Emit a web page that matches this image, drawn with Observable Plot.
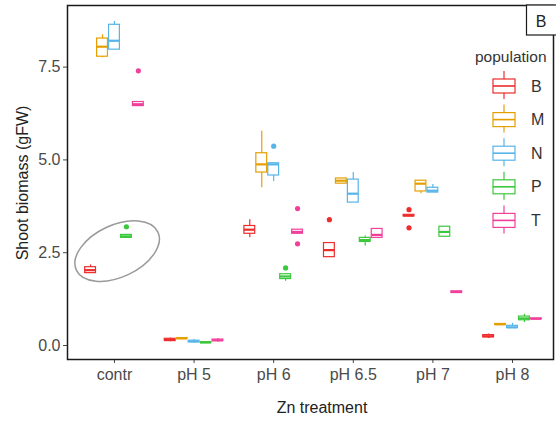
<!DOCTYPE html>
<html>
<head>
<meta charset="utf-8">
<script src="https://cdn.jsdelivr.net/npm/d3@7"></script>
<script src="https://cdn.jsdelivr.net/npm/@observablehq/plot@0.6"></script>
<style>
  body { margin: 0; background: #fff; }
  #chart { width: 556px; height: 423px; }
  #chart svg { font-family: "Liberation Sans", Arial, sans-serif; }
</style>
</head>
<body>
<div id="chart"></div>
<script>
// Zn treatments (x categories) and plant populations (dodged groups)
const treatments = ["contr", "pH 5", "pH 6", "pH 6.5", "pH 7", "pH 8"];
const populations = ["B", "M", "N", "P", "T"];
const popColors = ["#EE2C2C", "#E69F00", "#56B4E9", "#3CC83C", "#F0409A"];
const yTicks = [0, 2.5, 5, 7.5];

// Box statistics per treatment: [lower whisker, Q1, median, Q3, upper whisker]
const statsB = [
  [1.95, 1.95, 2.03, 2.11, 2.17],
  [0.10, 0.12, 0.15, 0.18, 0.20],
  [2.90, 3.01, 3.12, 3.22, 3.39],
  [2.38, 2.38, 2.57, 2.76, 2.76],
  [3.47, 3.48, 3.50, 3.52, 3.53],
  [0.19, 0.22, 0.25, 0.28, 0.31]
];
const statsM = [
  [7.75, 7.78, 8.05, 8.27, 8.37],
  [0.18, 0.18, 0.19, 0.20, 0.20],
  [4.25, 4.66, 4.88, 5.18, 5.77],
  [4.36, 4.36, 4.44, 4.50, 4.50],
  [4.09, 4.15, 4.36, 4.44, 4.44],
  [0.56, 0.56, 0.57, 0.58, 0.58]
];
const statsN = [
  [7.97, 7.97, 8.21, 8.64, 8.73],
  [0.06, 0.09, 0.11, 0.13, 0.16],
  [4.42, 4.58, 4.88, 4.91, 4.91],
  [3.85, 3.85, 4.09, 4.47, 4.66],
  [4.12, 4.12, 4.17, 4.25, 4.34],
  [0.47, 0.47, 0.49, 0.53, 0.60]
];
const statsP = [
  [2.90, 2.90, 2.94, 2.98, 2.98],
  [0.07, 0.07, 0.08, 0.09, 0.09],
  [1.73, 1.79, 1.86, 1.92, 1.92],
  [2.68, 2.79, 2.84, 2.90, 2.95],
  [2.93, 2.93, 3.06, 3.20, 3.20],
  [0.62, 0.68, 0.73, 0.78, 0.84]
];
const statsT = [
  [6.45, 6.45, 6.50, 6.56, 6.56],
  [0.09, 0.12, 0.14, 0.16, 0.19],
  [3.01, 3.01, 3.06, 3.12, 3.12],
  [2.90, 2.90, 2.98, 3.14, 3.14],
  [1.41, 1.42, 1.44, 1.46, 1.47],
  [0.71, 0.71, 0.72, 0.73, 0.73]
];

// Outlying observations
const outlierPop   = ["B",    "B",    "B",    "N",    "P",    "P",    "T",    "T",    "T"];
const outlierTreat = ["pH 6.5","pH 7", "pH 7", "pH 6", "contr","pH 6", "contr","pH 6", "pH 6"];
const outlierValue = [3.39,   3.66,   3.17,   5.37,   3.20,   2.09,   7.40,   3.69,   2.74];

// Highlight ellipse around the control group
const ellipseTreat = "contr";
const ellipseCenter = 2.53;

const allStats = [statsB, statsM, statsN, statsP, statsT];
const dodge = 0.15, halfBox = 0.068;
const xPos = (pop, treat) => treatments.indexOf(treat) + (populations.indexOf(pop) - 2) * dodge;

const boxes = [];
populations.forEach((pop, j) => {
  allStats[j].forEach(([lo, q1, med, q3, hi], i) => {
    const x = xPos(pop, treatments[i]);
    boxes.push({pop, x, x1: x - halfBox, x2: x + halfBox, lo, q1, med, q3, hi});
  });
});
const outliers = outlierValue.map((v, k) => ({pop: outlierPop[k], x: xPos(outlierPop[k], outlierTreat[k]), v}));

const ellipseMark = (index, scales) => {
  const cx = scales.x(treatments.indexOf(ellipseTreat) + 0.04);
  const cy = scales.y(ellipseCenter);
  const g = d3.create("svg:g");
  g.append("ellipse")
    .attr("cx", 0).attr("cy", 0).attr("rx", 45).attr("ry", 26)
    .attr("transform", `translate(${cx},${cy}) rotate(-25)`)
    .attr("fill", "none").attr("stroke", "#9a9a9a").attr("stroke-width", 1.5);
  return g.node();
};

const svg = Plot.plot({
  width: 556,
  height: 423,
  marginLeft: 67,
  marginRight: 3,
  marginTop: 5,
  marginBottom: 64,
  style: {fontSize: "16px", color: "#4a4a4a", background: "#fff"},
  x: {
    domain: [-0.59, 5.515],
    ticks: d3.range(treatments.length),
    tickFormat: i => treatments[i],
    tickSize: 4,
    tickPadding: 5,
    label: null
  },
  y: {
    domain: [-0.377, 9.16],
    ticks: yTicks,
    tickFormat: d3.format(".1f"),
    tickSize: 4,
    tickPadding: 3,
    label: null
  },
  color: {domain: populations, range: popColors},
  marks: [
    ellipseMark,
    Plot.ruleX(boxes, {x: "x", y1: "lo", y2: "hi", stroke: "pop", strokeWidth: 1.2}),
    Plot.rect(boxes, {x1: "x1", x2: "x2", y1: "q1", y2: "q3", fill: "white", stroke: "pop", strokeWidth: 1.2}),
    Plot.ruleY(boxes, {y: "med", x1: "x1", x2: "x2", stroke: "pop", strokeWidth: 2.2}),
    Plot.dot(outliers, {x: "x", y: "v", fill: "pop", r: 2.6, stroke: null}),
    Plot.frame({stroke: "#1a1a1a", strokeWidth: 1.5})
  ]
});

const s = d3.select(svg);

// Axis titles
s.append("text")
  .attr("x", 322).attr("y", 407).attr("dy", "0.35em")
  .attr("text-anchor", "middle").attr("fill", "#222").attr("font-size", 16)
  .text("Zn treatment");
s.append("text")
  .attr("transform", "translate(22,183) rotate(-90)").attr("dy", "0.35em")
  .attr("text-anchor", "middle").attr("fill", "#222").attr("font-size", 16)
  .text("Shoot biomass (gFW)");

// Panel tag
s.append("rect")
  .attr("x", 526.5).attr("y", 5).attr("width", 32).attr("height", 30)
  .attr("fill", "white").attr("stroke", "#1a1a1a").attr("stroke-width", 1.2);
s.append("text")
  .attr("x", 541).attr("y", 21).attr("dy", "0.35em")
  .attr("text-anchor", "middle").attr("fill", "#222").attr("font-size", 16)
  .text("B");

// Legend with boxplot keys
const leg = s.append("g").attr("text-anchor", "start");
leg.append("text")
  .attr("x", 475).attr("y", 57).attr("dy", "0.35em")
  .attr("text-anchor", "start")
  .attr("fill", "#333").attr("font-size", 15.5)
  .text("population");
populations.forEach((pop, j) => {
  const cy = 86 + j * 33.6;
  const col = popColors[j];
  const k = leg.append("g");
  k.append("line").attr("x1", 504).attr("x2", 504).attr("y1", cy - 15).attr("y2", cy + 13)
    .attr("stroke", col).attr("stroke-width", 1.2);
  k.append("rect").attr("x", 493).attr("y", cy - 7).attr("width", 22).attr("height", 14)
    .attr("fill", "white").attr("stroke", col).attr("stroke-width", 1.2);
  k.append("line").attr("x1", 493).attr("x2", 515).attr("y1", cy).attr("y2", cy)
    .attr("stroke", col).attr("stroke-width", 1.6);
  k.append("text").attr("x", 531).attr("y", cy).attr("dy", "0.35em")
    .attr("text-anchor", "start")
    .attr("fill", "#333").attr("font-size", 16).text(pop);
});

document.getElementById("chart").appendChild(svg);
</script>
</body>
</html>
